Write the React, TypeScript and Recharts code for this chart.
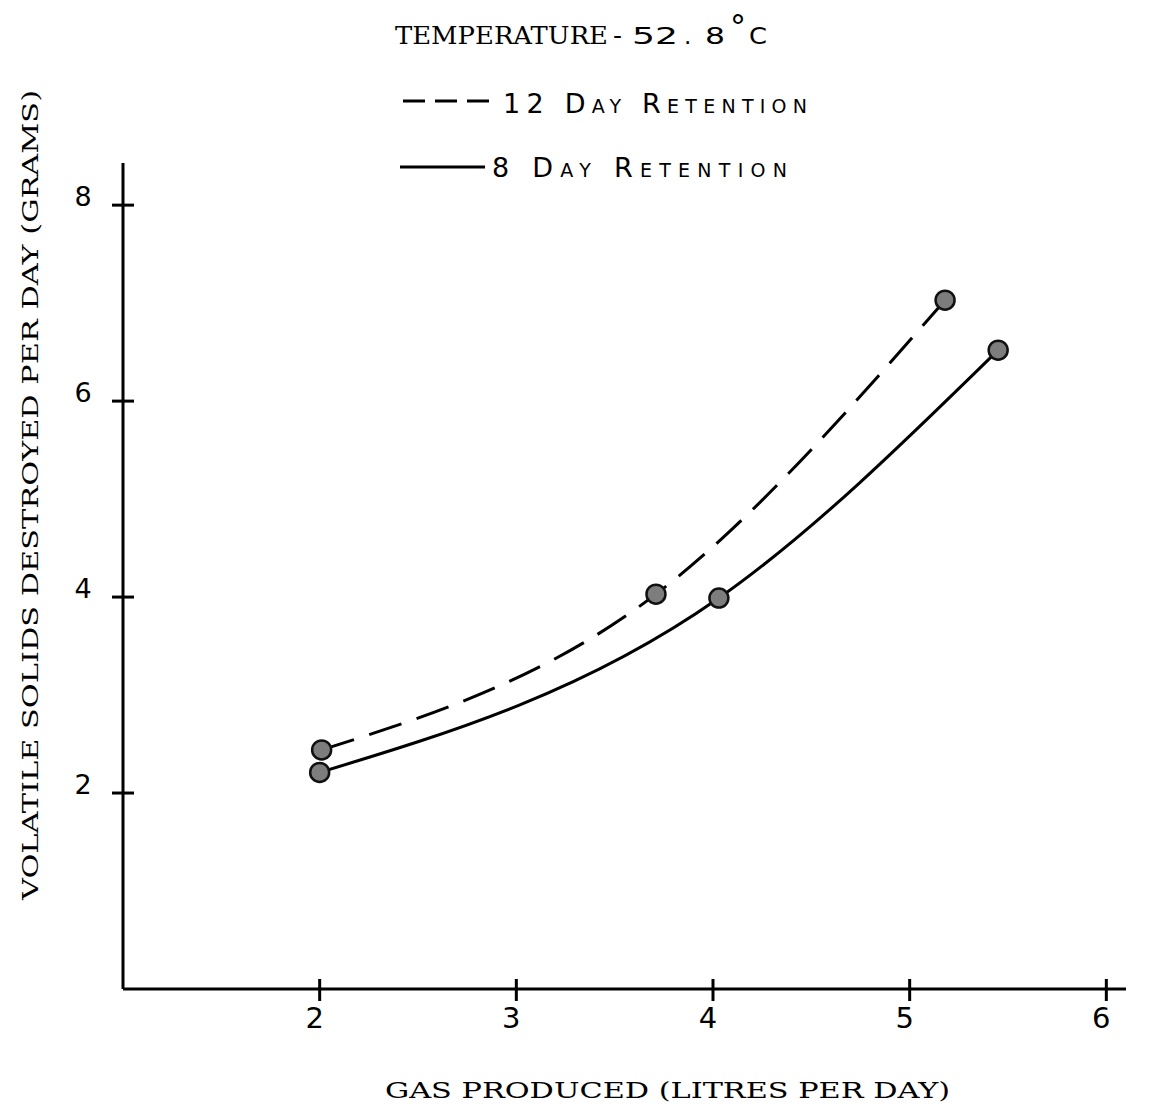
import React from 'react';
import { LineChart, Line, XAxis, YAxis } from 'recharts';

// 12 day retention (gas produced L/day, volatile solids destroyed g/day)
const gas12 = [2.01, 3.71, 5.18];
const vs12 = [2.44, 4.03, 7.03];
// 8 day retention
const gas8 = [2.0, 4.03, 5.45];
const vs8 = [2.21, 3.99, 6.52];

const xTicks = [2, 3, 4, 5, 6];
const yTicks = [2, 4, 6, 8];

const titleText = 'TEMPERATURE';
const series12Name = '12 Day Retention';
const series8Name = '8 Day Retention';
const xLabel = 'GAS PRODUCED (LITRES PER DAY)';
const yLabel = 'VOLATILE SOLIDS DESTROYED PER DAY (GRAMS)';

const data12 = gas12.map((x, i) => ({ x, y: vs12[i] }));
const data8 = gas8.map((x, i) => ({ x, y: vs8[i] }));

const W = 1151;
const H = 1106;

const XTick = (props: any) => {
  const { x, y, payload } = props;
  return (
    <g>
      <path d={`M${x},${y - 10}L${x},${y + 12}`} stroke="#000" strokeWidth={3} fill="none" />
      <text x={x - 5} y={y + 39} textAnchor="middle" fontFamily="DejaVu Sans" fontSize={29} fill="#000" stroke="none">
        {payload.value}
      </text>
    </g>
  );
};

const YTick = (props: any) => {
  const { x, y, payload } = props;
  return (
    <g>
      <path d={`M${x - 11},${y}L${x + 11},${y}`} stroke="#000" strokeWidth={3} fill="none" />
      <text x={x - 40} y={y + 1} textAnchor="middle" fontFamily="DejaVu Sans" fontSize={27} fill="#000" stroke="none">
        {payload.value}
      </text>
    </g>
  );
};

const Dot = (props: any) => {
  const { cx, cy, key } = props;
  if (cx == null || cy == null) return <g key={key} />;
  return <circle key={key} cx={cx} cy={cy} r={9.5} fill="#7d7d7d" stroke="#111" strokeWidth={2.5} />;
};

export default function App() {
  return (
    <div style={{ position: 'absolute', left: 0, top: 0, width: W, height: H, background: '#fff' }}>
      <LineChart
        width={W}
        height={H}
        margin={{ top: 163, left: 122, right: 25, bottom: 116 }}
      >
        <XAxis
          type="number"
          dataKey="x"
          domain={[1, 6.1]}
          ticks={xTicks}
          height={1}
          tickSize={0}
          tickMargin={0}
          tickLine={false}
          axisLine={{ stroke: '#000', strokeWidth: 3 }}
          tick={<XTick />}
        />
        <YAxis
          type="number"
          dataKey="y"
          domain={[0, 8.43]}
          ticks={yTicks}
          width={1}
          tickSize={0}
          tickMargin={0}
          tickLine={false}
          axisLine={{ stroke: '#000', strokeWidth: 3 }}
          tick={<YTick />}
        />
        <Line
          data={data12}
          dataKey="y"
          type="monotoneX"
          stroke="#000"
          strokeWidth={3}
          strokeDasharray="34 16"
          dot={Dot}
          activeDot={false}
          isAnimationActive={false}
        />
        <Line
          data={data8}
          dataKey="y"
          type="monotoneX"
          stroke="#000"
          strokeWidth={3}
          dot={Dot}
          activeDot={false}
          isAnimationActive={false}
        />
      </LineChart>
      <svg
        width={W}
        height={H}
        style={{ position: 'absolute', left: 0, top: 0, pointerEvents: 'none' }}
      >
        <text x={395} y={44} fontFamily="DejaVu Serif" fontSize={24} textLength={213} lengthAdjust="spacingAndGlyphs" fill="#000">
          {titleText}
        </text>
        <text x={613} y={44} fontFamily="DejaVu Sans" fontSize={25} fill="#000">-</text>
        <text x={632} y={44} fontFamily="DejaVu Sans" fontSize={23} textLength={46} lengthAdjust="spacingAndGlyphs" fill="#000">52</text>
        <text x={684} y={44} fontFamily="DejaVu Sans" fontSize={23} fill="#000">.</text>
        <text x={705} y={44} fontFamily="DejaVu Sans" fontSize={23} textLength={20} lengthAdjust="spacingAndGlyphs" fill="#000">8</text>
        <text x={730} y={38} fontFamily="DejaVu Sans" fontSize={32} fill="#000">°</text>
        <text x={749} y={44} fontFamily="DejaVu Sans" fontSize={23} textLength={18} lengthAdjust="spacingAndGlyphs" fill="#000">C</text>

        <line x1={403} x2={490} y1={101} y2={101} stroke="#000" strokeWidth={3} strokeDasharray="22 10" />
        <text x={503} y={113} fontFamily="DejaVu Sans" fontSize={27} style={{ fontVariant: 'small-caps' }} textLength={304} lengthAdjust="spacing" fill="#000">
          {series12Name}
        </text>
        <line x1={400} x2={485} y1={167} y2={167} stroke="#000" strokeWidth={3} />
        <text x={492} y={177} fontFamily="DejaVu Sans" fontSize={27} style={{ fontVariant: 'small-caps' }} textLength={295} lengthAdjust="spacing" fill="#000">
          {series8Name}
        </text>

        <text x={385} y={1098} fontFamily="DejaVu Serif" fontSize={22} textLength={565} lengthAdjust="spacingAndGlyphs" fill="#000">
          {xLabel}
        </text>
        <text
          x={38}
          y={900}
          transform="rotate(-90 38 900)"
          fontFamily="DejaVu Serif"
          fontSize={22}
          textLength={810}
          lengthAdjust="spacingAndGlyphs"
          fill="#000"
        >
          {yLabel}
        </text>
      </svg>
    </div>
  );
}
